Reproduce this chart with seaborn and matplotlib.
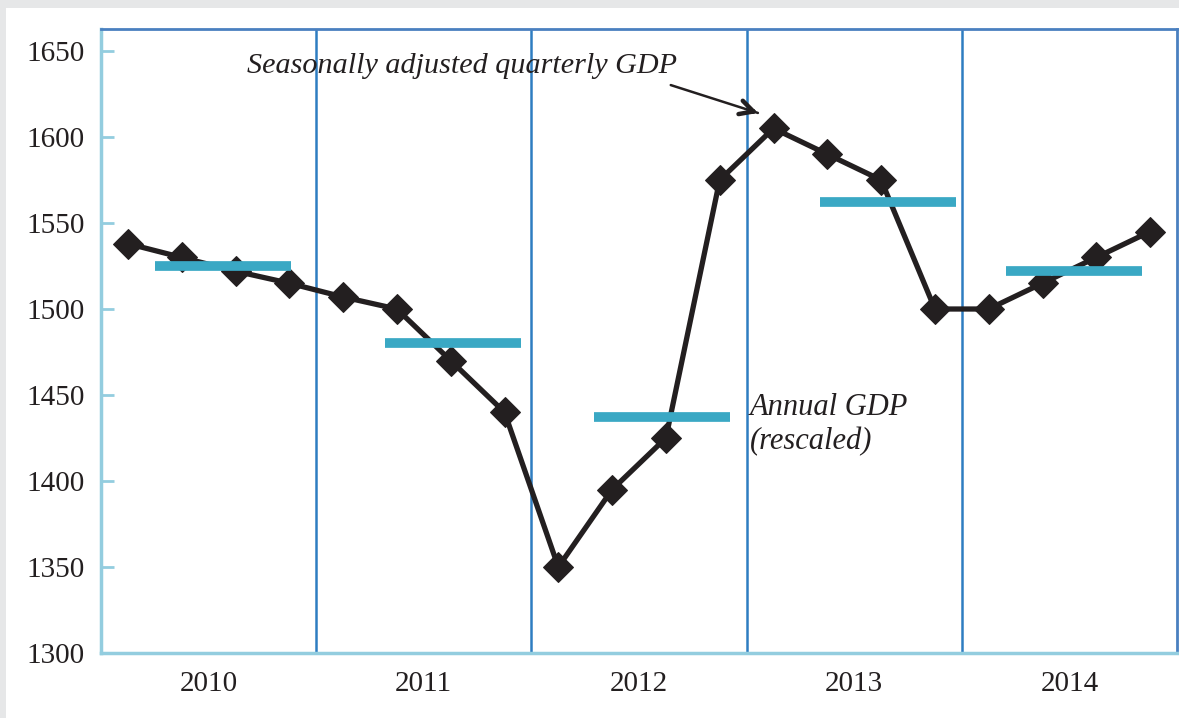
import numpy as np
import pandas as pd
import matplotlib
matplotlib.use("Agg")
import matplotlib.pyplot as plt
import seaborn as sns
from matplotlib.patches import Rectangle

years = ["2010", "2011", "2012", "2013", "2014"]
quarterly_gdp = [1538, 1530, 1522, 1515,
                 1507, 1500, 1470, 1440,
                 1350, 1395, 1425, 1575,
                 1605, 1590, 1575, 1500,
                 1500, 1515, 1530, 1545]
annual_gdp = [1525, 1480, 1437, 1562, 1522]
y_ticks = [1300, 1350, 1400, 1450, 1500, 1550, 1600, 1650]

# layout of annual bars (start offset within each year, in quarter units)
bar_start = [1.0, 1.28, 1.17, 1.36, 0.82]
bar_len = 2.53

sns.set_theme(style="white")
plt.rcParams['font.family'] = ['Liberation Serif', 'DejaVu Serif']

fig = plt.figure(figsize=(11.79, 7.18), dpi=100)
fig.patch.set_facecolor("#e6e7e8")
W, H = 1179, 718
fig.add_artist(Rectangle((6 / W, 0), 1, 1 - 8 / H, transform=fig.transFigure,
                         facecolor="white", edgecolor="none", zorder=0))

ax = fig.add_axes([101 / W, 1 - 653 / H, (1177 - 101) / W, (653 - 29) / H])
ax.set_facecolor("white")

df = pd.DataFrame({"x": np.arange(len(quarterly_gdp)) + 0.5, "gdp": quarterly_gdp})
sns.lineplot(data=df, x="x", y="gdp", ax=ax, color="#231f20", linewidth=3.8,
             marker="D", markersize=15, markeredgecolor="#231f20", zorder=4)

for i, v in enumerate(annual_gdp):
    x0 = 4 * i + bar_start[i]
    ax.hlines(v, x0, x0 + bar_len, color="#3aa8c4", linewidth=7, zorder=5)

for i in range(1, len(years)):
    ax.axvline(4 * i, color="#2e7dc1", linewidth=1.8, zorder=1)

ax.set_xlim(0, 20)
ax.set_ylim(1300, 1662.8)
ax.set_yticks(y_ticks)
ax.set_yticklabels([str(t) for t in y_ticks], fontsize=21, color="#231f20")
ax.set_xticks([4 * i + 2 for i in range(len(years))])
ax.set_xticklabels(years, fontsize=21, color="#231f20")
ax.tick_params(axis="y", direction="in", length=9, width=2, color="#93cddf", pad=12, left=True)
ax.tick_params(axis="x", length=0, pad=13)
ax.set_xlabel("")
ax.set_ylabel("")

for s in ["left", "bottom"]:
    ax.spines[s].set_color("#93cddf")
    ax.spines[s].set_linewidth(2.5)
for s in ["top", "right"]:
    ax.spines[s].set_color("#4a80c0")
    ax.spines[s].set_linewidth(2)
    ax.spines[s].set_visible(True)

ax.text(2.72, 1641, "Seasonally adjusted quarterly GDP", fontsize=21.7, style="italic",
        color="#231f20", ha="left", va="center")
# arrow shaft
ax.annotate("", xy=(12.21, 1614), xytext=(10.59, 1630.2),
            arrowprops=dict(arrowstyle="-", color="#231f20", lw=1.8, shrinkA=0, shrinkB=0))
# arrow head
ax.annotate("", xy=(12.21, 1614), xytext=(12.1, 1615.1),
            arrowprops=dict(arrowstyle="->,head_length=0.8,head_width=0.42", color="#231f20",
                            lw=3.2, shrinkA=0, shrinkB=0))
ax.text(12.06, 1451, "Annual GDP\n(rescaled)", fontsize=22, style="italic",
        color="#231f20", ha="left", va="top", linespacing=1.2)

fig.savefig("out.png", dpi=100, facecolor=fig.get_facecolor())
